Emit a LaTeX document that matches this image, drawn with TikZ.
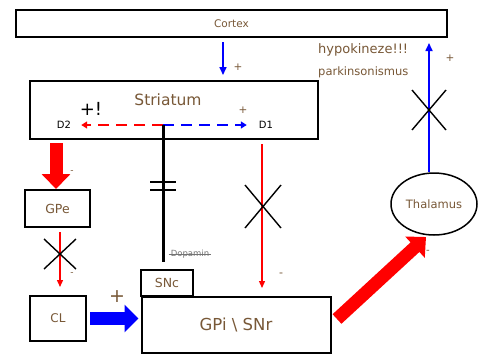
\documentclass[tikz,border=0pt]{standalone}
\usepackage{fontspec}
\setmainfont{DejaVu Sans}
\usetikzlibrary{arrows.meta,shapes.geometric}
\definecolor{txtbrown}{RGB}{120,88,55}
\definecolor{pred}{RGB}{255,0,0}
\definecolor{pblue}{RGB}{0,0,255}
\tikzset{
  box/.style={draw=black,line width=2pt,rectangle,inner sep=0pt,font=\fontsize{10.5}{11}\selectfont,text=txtbrown},
  lbl/.style={inner sep=0pt,text=txtbrown},
  thinred/.style={draw=pred,line width=1.3pt,-{Triangle[width=6pt,length=7pt]}},
  thinblue/.style={draw=pblue,line width=1.6pt,-{Triangle[width=7pt,length=8pt]}},
  cross/.style={draw=black,line width=1.4pt},
  fatred/.style={draw=pred,line width=13pt,-{Triangle[width=28pt,length=15pt]}},
  fatblue/.style={draw=pblue,line width=13pt,-{Triangle[width=27pt,length=14pt]}},
}
\begin{document}
\begin{tikzpicture}[x=1pt,y=-1pt]
\useasboundingbox (0,0) rectangle (484,354);
\fill[white] (0,0) rectangle (484,354);
% boxes
\node[box,minimum width=431pt,minimum height=27pt] (cortex) at (231.5,23.5) {Cortex};
\node[box,minimum width=288pt,minimum height=58pt] (striatum) at (174,110) {};
\node[lbl,font=\fontsize{15.5}{16}\selectfont] (strtxt) at (168,100) {Striatum};
\node[box,minimum width=65pt,minimum height=37pt,font=\fontsize{12.5}{13}\selectfont] (gpe) at (57.5,208.5) {GPe};
\node[box,minimum width=56pt,minimum height=45pt,font=\fontsize{12}{13}\selectfont] (cl) at (58,318.5) {CL};
\node[box,minimum width=52pt,minimum height=26pt,font=\fontsize{12.5}{13}\selectfont] (snc) at (167,283) {SNc};
\node[box,minimum width=189pt,minimum height=56pt,font=\fontsize{16.5}{17}\selectfont] (gpi) at (236,325) {GPi \textbackslash\ SNr};
\node[draw=black,line width=1.5pt,ellipse,minimum width=86pt,minimum height=62pt,inner sep=0pt,text=txtbrown,font=\fontsize{11.5}{12}\selectfont] (thal) at (434,204) {Thalamus};
% labels in striatum
\node[inner sep=0pt,font=\fontsize{10}{11}\selectfont] (d2) at (64,125) {D2};
\node[inner sep=0pt,font=\fontsize{10}{11}\selectfont] (d1) at (266,125) {D1};
\node[inner sep=0pt,font=\fontsize{18}{19}\selectfont] (plusex) at (91,109) {+!};
\node[lbl,font=\fontsize{10.5}{11}\selectfont] (plusd1) at (243,110) {+};
% helper coordinates
\coordinate (ax) at (223,0);
\coordinate (dop) at (163,125);
\coordinate (dopend) at (163,262);
\coordinate (gx) at (60,0);
\coordinate (dx) at (262,0);
\coordinate (tx) at (429,0);
\coordinate (topend) at (429,43);
\coordinate (fatstart) at (337,319);
\coordinate (fatend) at (426,237);
% cortex -> striatum
\draw[thinblue,shorten <=4pt,shorten >=5pt] (cortex.south -| ax) -- (striatum.north -| ax);
\node[lbl,font=\fontsize{10.5}{11}\selectfont] at (238,67) {+};
% dashed dopamine receptors
\draw[pred,line width=2pt,dash pattern=on 11pt off 7pt,-{Triangle[width=7pt,length=6pt]},shorten >=10pt] (dop) -- (d2.east);
\draw[pblue,line width=2pt,dash pattern=on 11pt off 7pt,-{Triangle[width=7pt,length=6pt]},shorten >=12pt] (dop) -- (d1.west);
% dopamine line
\draw[black,line width=3pt] (dop) -- (dopend);
\draw[black,line width=2.5pt] (150,182) -- (176,182) (150,190) -- (176,190);
\node[inner sep=0pt,text=black!55,font=\fontsize{8.5}{9}\selectfont] (dopt) at (190,254) {Dopamin};
\draw[black!55,line width=0.5pt] ([xshift=-2pt]dopt.west) -- ([xshift=2pt]dopt.east);
% striatum -> GPe
\draw[fatred] ([yshift=-3pt]striatum.south -| 56,0) -- (gpe.north -| 56,0);
\node[lbl,font=\fontsize{9}{10}\selectfont] at (72,172) {-};
% GPe -> CL
\draw[thinred,shorten <=4pt,shorten >=8pt] (gpe.south -| gx) -- (cl.north -| gx);
\draw[cross] (44,239) -- (76,269) (76,239) -- (44,269);
\node[lbl,font=\fontsize{9}{10}\selectfont] at (72,274) {-};
% CL -> GPi
\draw[fatblue,shorten <=3pt,shorten >=2pt] (cl.east) -- (gpi.west |- cl.east);
\node[lbl,font=\fontsize{19}{20}\selectfont] at (117,297) {+};
% D1 -> GPi
\draw[thinred,shorten <=4pt,shorten >=8pt] (striatum.south -| dx) -- (gpi.north -| dx);
\draw[cross] (245,185) -- (281,228) (281,185) -- (245,228);
\node[lbl,font=\fontsize{11}{12}\selectfont] at (281,275) {-};
% GPi -> Thalamus
\draw[fatred] (fatstart) -- (fatend);
\node[lbl,font=\fontsize{10}{11}\selectfont] at (428,252) {-};
% Thalamus -> Cortex
\draw[thinblue] (thal.north -| tx) -- (topend);
\draw[cross] (412,90) -- (446,130) (446,90) -- (412,130);
\node[lbl,font=\fontsize{10.5}{11}\selectfont] at (450,58) {+};
\node[lbl,anchor=west,font=\fontsize{13}{14}\selectfont] at (318,50) {hypokineze!!!};
\node[lbl,anchor=west,font=\fontsize{11.5}{12}\selectfont] at (318,72) {parkinsonismus};
\end{tikzpicture}
\end{document}
